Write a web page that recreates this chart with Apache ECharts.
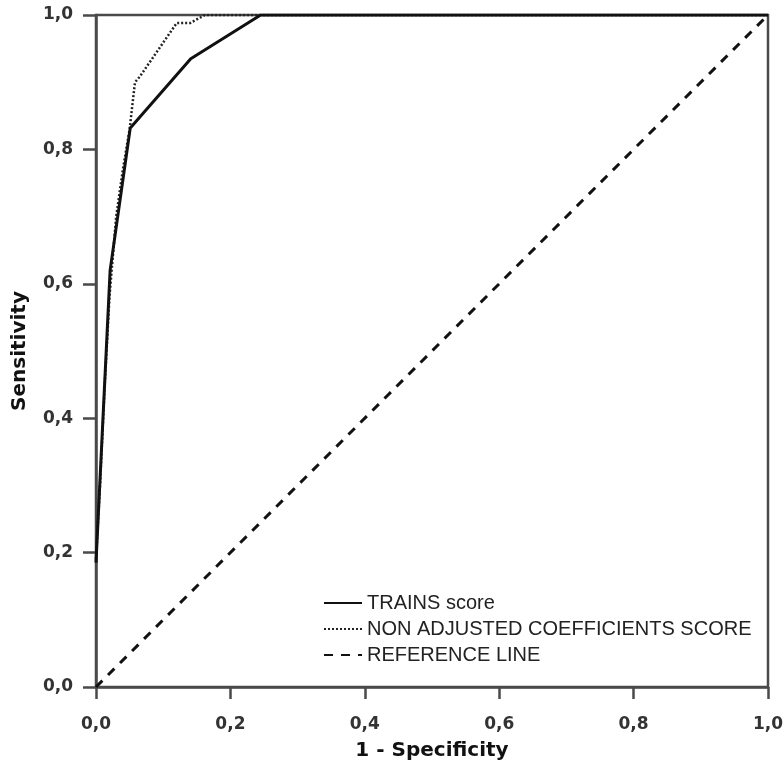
<!DOCTYPE html>
<html>
<head>
<meta charset="utf-8">
<script src="https://cdn.jsdelivr.net/npm/echarts@6/dist/echarts.min.js"></script>
<style>
  html, body { margin: 0; padding: 0; background: #fff; }
  #chart { width: 783px; height: 769px; }
</style>
</head>
<body>
<div id="chart"></div>
<script>
// ROC curves, values
var trainsX = [0, 0.021, 0.051, 0.141, 0.245, 1];
var trainsY = [0.185, 0.62, 0.832, 0.935, 1, 1];

var nonAdjX = [0, 0.006, 0.013, 0.02, 0.03, 0.04, 0.05, 0.058, 0.065, 0.12, 0.14, 0.162, 1];
var nonAdjY = [0.19, 0.3, 0.45, 0.58, 0.7, 0.77, 0.83, 0.9, 0.908, 0.988, 0.988, 1, 1];

var refX = [0, 1];
var refY = [0, 1];

function pairs(xs, ys) {
  return xs.map(function (x, i) { return [x, ys[i]]; });
}
function fmt(v) {
  return v.toFixed(1).replace('.', ',');
}

var axisColor = '#4a4a4a';
var tickFont = { color: '#333', fontFamily: 'DejaVu Sans', fontWeight: 'bold', fontSize: 17 };
var nameFont = { color: '#111', fontFamily: 'DejaVu Sans', fontWeight: 'bold', fontSize: 20 };

var myChart = echarts.init(document.getElementById('chart'));
var option = {
  animation: false,
  backgroundColor: '#fff',
  grid: {
    left: 96, right: 15, top: 15, bottom: 82,
    outerBoundsMode: 'none', containLabel: false,
    show: true, borderColor: axisColor, borderWidth: 2.5
  },
  legend: {
    orient: 'vertical',
    left: 318, top: 587,
    itemWidth: 38, itemHeight: 14, itemGap: 4,
    itemStyle: { opacity: 0 },
    textStyle: { color: '#222', fontFamily: 'Liberation Sans', fontSize: 20, lineHeight: 22 },
    data: ['TRAINS score', 'NON ADJUSTED COEFFICIENTS SCORE', 'REFERENCE LINE']
  },
  xAxis: {
    type: 'value', min: 0, max: 1, interval: 0.2,
    name: '1 - Specificity', nameLocation: 'middle', nameGap: 54,
    nameTextStyle: nameFont,
    axisLine: { lineStyle: { color: axisColor, width: 2.5 } },
    axisTick: { show: true, length: 12, lineStyle: { color: axisColor, width: 2.5 } },
    axisLabel: Object.assign({ margin: 29, formatter: fmt }, tickFont),
    splitLine: { show: false }
  },
  yAxis: {
    type: 'value', min: 0, max: 1, interval: 0.2,
    name: 'Sensitivity', nameLocation: 'middle', nameGap: 66,
    nameTextStyle: nameFont,
    axisLine: { lineStyle: { color: axisColor, width: 2.5 } },
    axisTick: { show: true, length: 13, lineStyle: { color: axisColor, width: 2.5 } },
    axisLabel: Object.assign({ margin: 23, formatter: fmt }, tickFont),
    splitLine: { show: false }
  },
  series: [
    {
      name: 'TRAINS score', type: 'line', symbol: 'none',
      data: pairs(trainsX, trainsY),
      lineStyle: { color: '#111', width: 3 },
      itemStyle: { color: '#111' }, z: 4
    },
    {
      name: 'NON ADJUSTED COEFFICIENTS SCORE', type: 'line', symbol: 'none',
      data: pairs(nonAdjX, nonAdjY),
      lineStyle: { color: '#222', width: 2.5, type: [2, 2] },
      itemStyle: { color: '#222' }, z: 3
    },
    {
      name: 'REFERENCE LINE', type: 'line', symbol: 'none',
      data: pairs(refX, refY),
      lineStyle: { color: '#111', width: 3, type: [9, 8] },
      itemStyle: { color: '#111' }, z: 2
    }
  ]
};
myChart.setOption(option);
</script>
</body>
</html>
